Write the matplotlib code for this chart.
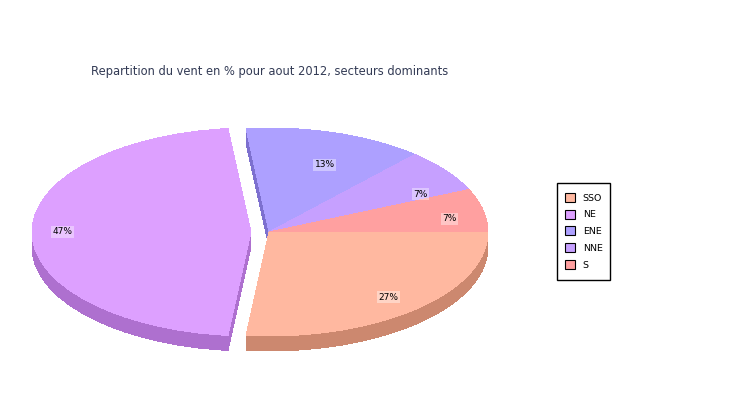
import matplotlib
matplotlib.use("Agg")
import matplotlib.pyplot as plt
from matplotlib.patches import Patch, Rectangle

sectors = ["SSO", "NE", "ENE", "NNE", "S"]
values = [26.7, 46.7, 13.3, 6.7, 6.7]
colors = ["#FFB8A0", "#DDA0FF", "#ADA0FF", "#C6A0FF", "#FFA0A0"]
side_colors = ["#CC886F", "#AE70CF", "#7D70CF", "#9670CF", "#CF7070"]
explode = [0, 18, 0, 0, 0]  # pie() takes this in data units here, so pixels

RX = 219.0
RY = 104.0
# y data units are stretched so that a round pie comes out flat
YK = RX / RY

# small nudges of the percent labels, in pixels (right, down)
label_nudge = [(-2, 1), (-7, 0), (0, 15), (5, 13), (3, 5)]


def py(y):
    return (400 - y) * YK


fig = plt.figure(figsize=(7.5, 4), dpi=100)
ax = fig.add_axes([0, 0, 1, 1])

# side of the pie: same pie again, stepped down pixel by pixel
for d in range(15, 0, -1):
    ax.pie(values, explode=explode, colors=side_colors, startangle=0, counterclock=False,
           radius=RX, center=(269, py(232 + d)), frame=True,
           wedgeprops={"linewidth": 0, "antialiased": False})

wedges, texts, pcts = ax.pie(values, explode=explode, colors=colors, startangle=0, counterclock=False,
                             radius=RX, center=(269, py(232)), frame=True,
                             autopct="%.0f%%", pctdistance=0.83,
                             wedgeprops={"linewidth": 0, "antialiased": False})
for t, (dx, dy) in zip(pcts, label_nudge):
    x, y = t.get_position()
    t.set_position((x + dx, y - dy * YK))
    t.set_fontsize(6.5)
    t.set_color("black")
    t.set_bbox({"facecolor": "white", "alpha": 0.4, "edgecolor": "none", "pad": 1})

ax.set_aspect("auto")
ax.set_xlim(0, 750)
ax.set_ylim(0, 400 * YK)
ax.axis("off")

fig.text(91 / 750, 1 - 72 / 400, "Repartition du vent en % pour aout 2012, secteurs dominants",
         fontsize=8.3, color="#333B55", va="center", ha="left")

# legend box drawn apart, its padding is not the same both ways in the original
fig.add_artist(Rectangle((557 / 750, 1 - 280 / 400), 53 / 750, 97 / 400, transform=fig.transFigure,
                         facecolor="white", edgecolor="black", linewidth=1))
handles = [Patch(facecolor=c, edgecolor="black", linewidth=0.8) for c in colors]
leg = fig.legend(handles, sectors, loc="upper left", bbox_to_anchor=(555 / 750, 1 - 183 / 400),
                 fontsize=6.8, frameon=False,
                 borderaxespad=0, handlelength=1.1, handleheight=1.1, labelspacing=0.74,
                 handletextpad=0.8, borderpad=1.05)

fig.savefig("out.png", dpi=100)
